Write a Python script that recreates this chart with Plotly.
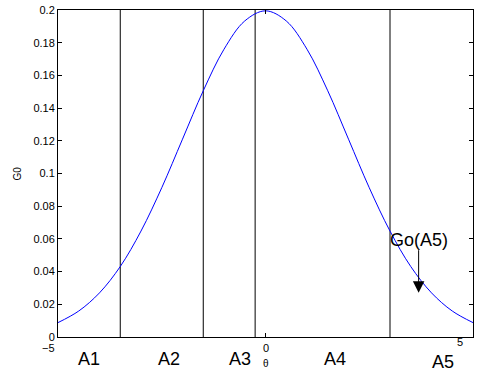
import plotly.graph_objects as go

# G0 curve samples
theta = [-5.0, -4.5, -4.0, -3.5, -3.0, -2.5, -2.0, -1.5, -1.0, -0.5, 0.0,
         0.5, 1.0, 1.5, 2.0, 2.5, 3.0, 3.5, 4.0, 4.5, 5.0]
g0 = [0.0088, 0.0159, 0.0270, 0.0431, 0.0648, 0.0913, 0.1210, 0.1506, 0.1760, 0.1933, 0.1995,
      0.1933, 0.1760, 0.1506, 0.1210, 0.0913, 0.0648, 0.0431, 0.0270, 0.0159, 0.0088]

# region boundaries
boundaries = [-3.5, -1.5, -0.25, 3.0]

# region labels and their positions
region_names = ["A1", "A2", "A3", "A4", "A5"]
region_x = [-4.25, -2.33, -0.62, 1.67, 4.27]

# axis ticks
x_ticks = [-5, 0, 5]
x_tick_text = ["\u22125", "0", "5"]
y_ticks = [0, 0.02, 0.04, 0.06, 0.08, 0.1, 0.12, 0.14, 0.16, 0.18, 0.2]
y_tick_text = ["0", "0.02", "0.04", "0.06", "0.08", "0.1", "0.12", "0.14", "0.16", "0.18", "0.2"]

# pointer to the A5 tail value
pointer_tip = (3.69, 0.0271)
pointer_tail_y = 0.054

FONT = "Liberation Sans, Arial, Helvetica, sans-serif"

fig = go.Figure()

vx, vy = [], []
for b in boundaries:
    vx += [b, b, None]
    vy += [0, 0.2, None]
fig.add_trace(go.Scatter(x=vx, y=vy, mode="lines",
                         line=dict(color="black", width=1), hoverinfo="skip"))

fig.add_trace(go.Scatter(x=theta, y=g0, mode="lines", line_shape="spline",
                         line=dict(color="#0000ff", width=1)))

annotations = []
for name, xv in zip(region_names, region_x):
    annotations.append(dict(x=xv, y=0, xref="x", yref="y", text=name, showarrow=False,
                            yanchor="middle", xanchor="center", yshift=-22 if name != "A5" else -25,
                            font=dict(size=18, color="black", family=FONT)))

# x tick labels
shifts = {-5: (-1, -11, "right"), 0: (0, -11, "center"), 5: (-8, -5, "right")}
for tv, tt in zip(x_ticks, x_tick_text):
    xs, ys, anc = shifts[tv]
    annotations.append(dict(x=tv, y=0, xref="x", yref="y", text=tt, showarrow=False,
                            xanchor=anc, yanchor="middle", xshift=xs, yshift=ys,
                            font=dict(size=11, color="black", family=FONT)))

# axis titles
annotations.append(dict(x=0, y=0, xref="x", yref="y", text="\u03b8", showarrow=False,
                        xanchor="center", yanchor="middle", yshift=-26,
                        font=dict(size=10, color="black", family=FONT)))
annotations.append(dict(x=0, y=0.5, xref="paper", yref="paper", text="G0", showarrow=False,
                        xanchor="center", yanchor="middle", xshift=-41, textangle=-90,
                        font=dict(size=10, color="black", family=FONT)))

# pointer
annotations.append(dict(x=pointer_tip[0], y=pointer_tip[1], ax=pointer_tip[0], ay=pointer_tail_y,
                        xref="x", yref="y", axref="x", ayref="y", text="", showarrow=True,
                        arrowhead=2, arrowsize=2.3, arrowwidth=1, arrowcolor="black", standoff=0))
annotations.append(dict(x=pointer_tip[0], y=pointer_tail_y, xref="x", yref="y", text="Go(A5)",
                        showarrow=False, xanchor="center", yanchor="bottom", yshift=-3,
                        font=dict(size=18, color="black", family=FONT)))

fig.update_layout(
    width=477, height=383,
    margin=dict(l=58, r=4, t=10, b=46),
    paper_bgcolor="white", plot_bgcolor="white",
    showlegend=False,
    annotations=annotations,
    font=dict(family=FONT, color="black", size=11),
)
fig.update_xaxes(range=[-5, 5], tickvals=x_ticks, showticklabels=False,
                 ticks="inside", ticklen=4, tickcolor="black", showline=True, linecolor="black",
                 linewidth=1, mirror="ticks", showgrid=False, zeroline=False)
fig.update_yaxes(range=[0, 0.2], tickvals=y_ticks, ticktext=y_tick_text,
                 ticks="inside", ticklen=4, tickcolor="black", showline=True, linecolor="black",
                 linewidth=1, mirror="ticks", showgrid=False, zeroline=False,
                 tickfont=dict(size=11, family=FONT, color="black"))

fig.write_html("out.html")
